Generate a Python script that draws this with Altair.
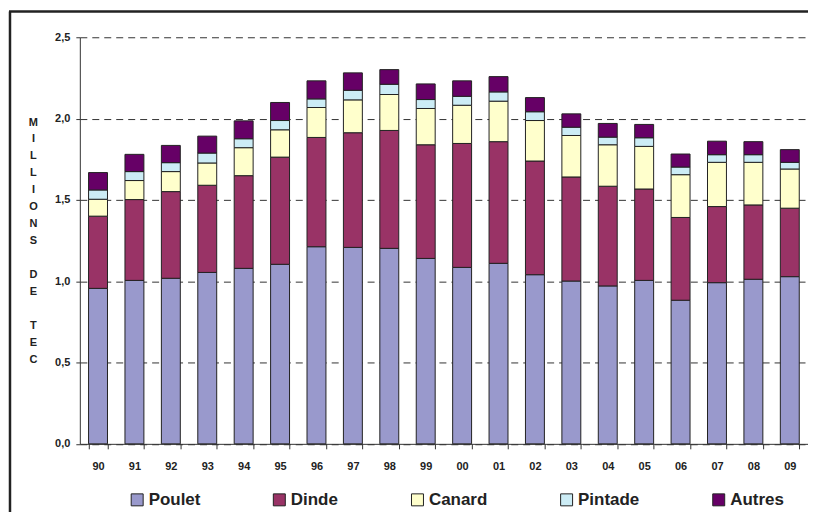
import altair as alt
import pandas as pd

years = ["90", "91", "92", "93", "94", "95", "96", "97", "98", "99",
         "00", "01", "02", "03", "04", "05", "06", "07", "08", "09"]
poulet = [0.956, 1.005, 1.018, 1.054, 1.079, 1.104, 1.212, 1.208, 1.202, 1.140,
          1.085, 1.110, 1.040, 1.001, 0.971, 1.005, 0.883, 0.991, 1.012, 1.028]
dinde = [0.444, 0.497, 0.533, 0.536, 0.570, 0.659, 0.672, 0.705, 0.725, 0.699,
         0.762, 0.748, 0.699, 0.640, 0.613, 0.562, 0.509, 0.468, 0.457, 0.421]
canard = [0.104, 0.117, 0.123, 0.137, 0.172, 0.168, 0.184, 0.202, 0.221, 0.223,
          0.235, 0.249, 0.249, 0.255, 0.255, 0.262, 0.263, 0.272, 0.262, 0.241]
pintade = [0.057, 0.055, 0.055, 0.061, 0.055, 0.057, 0.053, 0.059, 0.063, 0.055,
           0.055, 0.057, 0.054, 0.051, 0.047, 0.053, 0.047, 0.047, 0.047, 0.041]
autres = [0.107, 0.106, 0.106, 0.104, 0.110, 0.111, 0.111, 0.107, 0.090, 0.096,
          0.095, 0.094, 0.087, 0.082, 0.084, 0.082, 0.080, 0.083, 0.080, 0.078]
species = ["Poulet", "Dinde", "Canard", "Pintade", "Autres"]
colors = ["#9999CC", "#993366", "#FFFFCC", "#CCECF5", "#660066"]
y_ticks = [0.0, 0.5, 1.0, 1.5, 2.0, 2.5]
y_title = ["M", "I", "L", "L", "I", "O", "N", "S", "\u2800", "D", "E", "\u2800", "T", "E", "C"]

series = [poulet, dinde, canard, pintade, autres]
rows = []
for k, (name, vals) in enumerate(zip(species, series)):
    for yr, v in zip(years, vals):
        rows.append({"annee": yr, "espece": name, "valeur": v, "rang": k})
df = pd.DataFrame(rows)

W, H = 730, 407.6
FONT = "Liberation Sans"

bars = alt.Chart(df).mark_bar(stroke="#222222", strokeWidth=1).encode(
    x=alt.X("annee:N", sort=years,
            scale=alt.Scale(paddingInner=0.48, paddingOuter=0.24),
            axis=alt.Axis(title=None, labelAngle=0, tickBand="extent",
                          tickSize=5, labelPadding=12, labelFont=FONT,
                          labelFontSize=11, labelFontWeight="bold",
                          labelColor="#222222", domainColor="#333333",
                          tickColor="#333333")),
    y=alt.Y("valeur:Q", stack="zero",
            scale=alt.Scale(domain=[0, 2.5], nice=False),
            axis=alt.Axis(values=y_ticks, grid=True, gridDash=[7, 5],
                          gridColor="#333333", gridWidth=1, tickSize=4,
                          labelPadding=6, domainColor="#333333",
                          tickColor="#333333", labelFont=FONT,
                          labelFontSize=11, labelFontWeight="bold",
                          labelColor="#222222",
                          labelExpr="replace(format(datum.value, '.1f'), '.', ',')",
                          title=y_title, titleAngle=0, titleAlign="center",
                          titleBaseline="middle", titleX=-47, titleY=85,
                          titleLineHeight=17, titleFont=FONT,
                          titleFontSize=11, titleFontWeight="bold",
                          titleColor="#222222")),
    color=alt.Color("espece:N", sort=species,
                    scale=alt.Scale(domain=species, range=colors),
                    legend=alt.Legend(title=None, orient="none",
                                      direction="horizontal", columns=5,
                                      legendX=49, legendY=455,
                                      columnPadding=70.5,
                                      symbolType="square", symbolSize=144,
                                      symbolStrokeColor="#222222",
                                      symbolStrokeWidth=1, labelOffset=3,
                                      labelFont=FONT, labelFontSize=17,
                                      labelFontWeight="bold",
                                      labelColor="#222222")),
    order=alt.Order("rang:Q", sort="ascending"),
)

frame_df = pd.DataFrame({"k": [0]})
left_border = alt.Chart(frame_df).mark_rule(color="#222222", strokeWidth=2.5).encode(
    x=alt.value(-70), y=alt.value(-25.7), y2=alt.value(480))
top_border = alt.Chart(frame_df).mark_rule(color="#222222", strokeWidth=2.5).encode(
    x=alt.value(-71), x2=alt.value(740), y=alt.value(-25.7))

chart = alt.layer(bars, left_border, top_border).properties(
    width=W, height=H,
    autosize=alt.AutoSizeParams(type="none"),
    padding={"left": 72, "top": 28.7, "right": 0, "bottom": 68},
    background="white",
).configure_view(stroke=None)

chart.save("out.html", embed_options={"renderer": "svg", "actions": False})
